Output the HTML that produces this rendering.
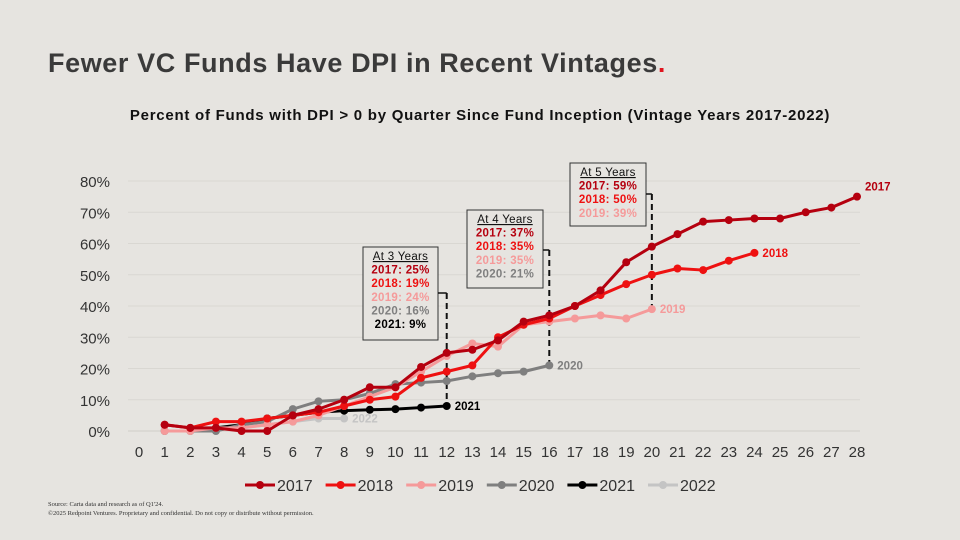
<!DOCTYPE html>
<html><head><meta charset="utf-8"><style>
body{margin:0;width:960px;height:540px;background:#e6e4e0;font-family:"Liberation Sans",sans-serif;overflow:hidden}
svg{position:absolute;left:0;top:0}
</style></head><body>
<svg id="c" width="960" height="540">
<text x="48" y="72" font-size="27" font-weight="bold" fill="#3a3a3a" letter-spacing="0.6">Fewer VC Funds Have DPI in Recent Vintages<tspan fill="#e0141e">.</tspan></text>
<text x="480" y="120" text-anchor="middle" font-size="15" font-weight="bold" fill="#111" letter-spacing="0.75">Percent of Funds with DPI &gt; 0 by Quarter Since Fund Inception (Vintage Years 2017-2022)</text>
<text x="48" y="506" font-size="6.5" fill="#333" font-family="Liberation Serif,serif">Source: Carta data and research as of Q1'24.</text>
<text x="48" y="515" font-size="6.5" fill="#333" font-family="Liberation Serif,serif">©2025 Redpoint Ventures. Proprietary and confidential. Do not copy or distribute without permission.</text>
<g id="plot"></g>
</svg>
<script>
const years=["2017","2018","2019","2020","2021","2022"];
const colors=["#b5000f","#ee1111","#f59a9a","#7f7f7f","#000000","#c4c4c4"];
const s2017=[2,1,1,0,0,5,7,10,14,14,20.5,25,26,29,35,37,40,45,54,59,63,67,67.5,68,68,70,71.5,75];
const s2018=[2,1,3,3,4,5,6,8,10,11,17,19,21,30,34,36,40,43.5,47,50,52,51.5,54.5,57];
const s2019=[0,0,1,1,2,3,5,8,11,14,19,24,28,27,34,35,36,37,36,39];
const s2020=[0,0,0,2,3,7,9.5,10,12,15,15.5,16,17.5,18.5,19,21];
const s2021=[null,null,1,2,4,5,6,6.5,6.8,7,7.5,8];
const s2022=[0,0,1,1,2,3,4,4];
const series=[s2017,s2018,s2019,s2020,s2021,s2022];
const yTicks=[0,10,20,30,40,50,60,70,80];
const xTicks=[0,1,2,3,4,5,6,7,8,9,10,11,12,13,14,15,16,17,18,19,20,21,22,23,24,25,26,27,28];
const endLabels=[["2017",s2017],["2018",s2018],["2019",s2019],["2020",s2020],["2021",s2021],["2022",s2022]];
const xs=q=>139+q*(857-139)/28;
const ys=v=>431-v*250/80;
const NS="http://www.w3.org/2000/svg";
const g=document.getElementById('plot');
function mk(t,a,p){const e=document.createElementNS(NS,t);for(const k in a)e.setAttribute(k,a[k]);(p||g).appendChild(e);return e;}
yTicks.forEach(v=>{
 const l=mk('line',{x1:128,x2:860,y1:ys(v),y2:ys(v),stroke:v==0?'#d0cec9':'#d9d7d2','stroke-width':1});
 
 
 const t=mk('text',{x:110,y:ys(v)+6,'text-anchor':'end','font-size':15,fill:'#333'});t.textContent=v+'%';
 
 
});
xTicks.forEach(q=>{
 const t=mk('text',{x:xs(q),y:457,'text-anchor':'middle','font-size':15,fill:'#333'});t.textContent=q;
 
 
});
function box(x,y,w,h,lines,bx,by,bottom,name){
 const gg=mk('g',{});
 
 
 mk('rect',{x:x,y:y,width:w,height:h,fill:'#e6e4e0',stroke:'#333','stroke-width':1},gg);
 lines.forEach((l,i)=>{const t=mk('text',{x:x+w/2,y:y+13+i*13.6,'text-anchor':'middle','font-size':11.5,'font-weight':i?'bold':'normal',fill:l[1],'letter-spacing':0.3,'text-decoration':i?'none':'underline'},gg);t.textContent=l[0];});
 mk('line',{x1:x+w,x2:bx,y1:by,y2:by,stroke:'#111','stroke-width':1.5},gg);
 mk('line',{x1:bx,x2:bx,y1:by,y2:bottom,stroke:'#111','stroke-width':2,'stroke-dasharray':'6,4'},gg);
}
box(363,247,75,93,[["At 3 Years","#111"],["2017: 25%",colors[0]],["2018: 19%",colors[1]],["2019: 24%",colors[2]],["2020: 16%",colors[3]],["2021: 9%","#000"]],xs(12),293,ys(8),'annotation-3-years');
box(467,210,76,78,[["At 4 Years","#111"],["2017: 37%",colors[0]],["2018: 35%",colors[1]],["2019: 35%",colors[2]],["2020: 21%",colors[3]]],xs(16),250,ys(21),'annotation-4-years');
box(570,163,76,63,[["At 5 Years","#111"],["2017: 59%",colors[0]],["2018: 50%",colors[1]],["2019: 39%",colors[2]]],xs(20),194,ys(39),'annotation-5-years');
for(let i=series.length-1;i>=0;i--){
 const d=series[i];let pts=[];
 d.forEach((v,k)=>{if(v!==null)pts.push([xs(k+1),ys(v)]);});
 const pl=mk('polyline',{points:pts.map(p=>p.join(',')).join(' '),fill:'none',stroke:colors[i],'stroke-width':3,'stroke-linejoin':'round'});
 
 
 pts.forEach(p=>{const c=mk('circle',{cx:p[0],cy:p[1],r:4,fill:colors[i]});
 
 });
 const last=pts[pts.length-1];
 const t=mk('text',{x:last[0]+8,y:last[1]+(i==0?-6:4),'font-size':11.5,'font-weight':'bold',fill:colors[i]});
 t.textContent=endLabels[i][0];
 
 
}
years.forEach((y,i)=>{
 const x=245+i*80.6;
 const lg=mk('g',{});
 
 
 mk('line',{x1:x,x2:x+30,y1:485,y2:485,stroke:colors[i],'stroke-width':3},lg);
 mk('circle',{cx:x+15,cy:485,r:4,fill:colors[i]},lg);
 const t=mk('text',{x:x+32,y:491,'font-size':16,fill:'#333'},lg);t.textContent=y;
});
</script>
</body></html>
